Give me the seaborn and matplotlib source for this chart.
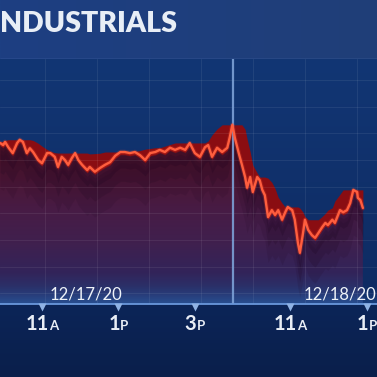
import numpy as np
import pandas as pd
import matplotlib
matplotlib.use("Agg")
import matplotlib.pyplot as plt
import matplotlib.transforms as mtrans
from matplotlib.colors import LinearSegmentedColormap, to_rgb
from matplotlib.path import Path
from matplotlib.ticker import MultipleLocator
import seaborn as sns

# ---------------- data ----------------
title = "NDUSTRIALS"
dates = ["12/17/20", "12/18/20"]

# minutes after the 9:30 open, session 1 (12/17/20)
day1_min = [24, 29, 32, 37, 44, 51, 55, 60, 66, 71, 76, 84, 90, 98, 103, 110,
            115, 121, 126, 131, 137, 142, 147, 153, 161, 165, 173, 181, 189,
            197, 205, 213, 220, 228, 236, 244, 252, 260, 268, 275, 283, 291,
            299, 307, 315, 322, 330, 338, 346, 351, 357, 365, 373, 381, 385, 389]
day1_val = [30282, 30278, 30284, 30274, 30263, 30282, 30288, 30284, 30263,
            30272, 30265, 30250, 30244, 30263, 30263, 30256, 30237, 30256,
            30250, 30241, 30254, 30263, 30250, 30241, 30231, 30237, 30228,
            30235, 30241, 30246, 30258, 30265, 30265, 30263, 30265, 30259,
            30250, 30263, 30265, 30269, 30265, 30273, 30269, 30273, 30269,
            30282, 30263, 30256, 30274, 30278, 30256, 30273, 30265, 30273,
            30293, 30316]

# minutes after the 9:30 open, session 2 (12/18/20)
day2_min = [3, 9, 14, 19, 22, 27, 31, 38, 42, 46, 50, 55, 61, 66, 71, 77, 82,
            86, 93, 97, 102, 105, 110, 113, 118, 124, 129, 134, 140, 145, 149,
            156, 160, 168, 173, 179, 184, 189, 195, 196, 200, 204]
day2_val = [30291, 30263, 30241, 30218, 30198, 30218, 30190, 30218, 30212,
            30194, 30184, 30143, 30156, 30147, 30156, 30138, 30152, 30162,
            30156, 30138, 30094, 30076, 30113, 30138, 30119, 30109, 30104,
            30113, 30124, 30132, 30128, 30138, 30132, 30156, 30152, 30156,
            30169, 30194, 30190, 30179, 30175, 30160]

tick_pos = [1.5, 3.5, 5.5, 8.0, 10.0]          # hours after first open
tick_num = ["11", "1", "3", "11", "1"]
tick_suf = ["A", "P", "P", "A", "P"]
session_hours = 6.5

# ---------------- layout constants ----------------
W = H = 377
top_px, base_px = 59, 304
px_per_hour = 38.2
val_per_px = 1.875
x_lo = session_hours + (0 - 233) / px_per_hour
x_hi = session_hours + (W - 233) / px_per_hour
y_lo = 30550 - val_per_px * base_px
y_hi = 30550 - val_per_px * top_px
grid_t = [session_hours + (p - 233) / px_per_hour for p in (45, 97, 149, 201, 253, 305, 357)]

t = np.concatenate([np.array(day1_min) / 60.0, session_hours + np.array(day2_min) / 60.0])
v = np.concatenate([np.array(day1_val, float), np.array(day2_val, float)])
df = pd.DataFrame({"t": t, "value": v})

sns.set_style("dark")
plt.rcParams["font.family"] = ["Lato", "DejaVu Sans"]

fig = plt.figure(figsize=(W / 100, H / 100), dpi=100)
fig.patch.set_facecolor("#0b2254")


def vgrad(colors, n=256):
    cm = LinearSegmentedColormap.from_list("g", colors)
    return cm(np.linspace(0, 1, n))[:, None, :]


# background axes (pixel space)
bg = fig.add_axes([0, 0, 1, 1])
bg.set_axis_off()
hdr = np.ones((60, 200, 3))
left = np.array(to_rgb("#1d3f82"))
right = np.array(to_rgb("#203e78"))
for i in range(200):
    hdr[:, i, :] = left + (right - left) * i / 199
bg.imshow(hdr, extent=[0, W, top_px, 0], aspect="auto", zorder=0)
bg.imshow(vgrad(["#0c2558", "#0a1f4b"]), extent=[0, W, H, base_px], aspect="auto", zorder=0)
bg.plot([0, W], [top_px, top_px], color="#4c70b0", lw=1.0, zorder=1)
bg.set_xlim(0, W)
bg.set_ylim(H, 0)

# chart axes
ax = fig.add_axes([0, (H - base_px) / H, 1, (base_px - top_px) / H])
ax.set_facecolor("#0f2c64")
ax.imshow(vgrad(["#0e2b62", "#123674"]), extent=[x_lo, x_hi, y_hi, y_lo],
          aspect="auto", zorder=0.5)

# gradient fill under the line, clipped to the area polygon
verts = np.vstack([np.column_stack([t, v]),
                   [[t[-1], y_lo], [t[0], y_lo], [t[0], v[0]]]])
area = Path(verts)
fill_cols = ["#22407c", "#32245a", "#40204e", "#471c46", "#4b1736", "#4e1329",
             "#560f21", "#5a0f1f", "#5a0f1f"]
im = ax.imshow(vgrad(fill_cols), extent=[x_lo, x_hi, y_lo, y_hi], origin="lower",
               aspect="auto", zorder=2)
im.set_clip_path(area, ax.transData)

# dark drip shadow under the line
for a, b, al in [(6, 30, 0.22), (12, 55, 0.18), (20, 85, 0.12)]:
    ax.fill_between(t, v - a, v - b, color="#1c0520", alpha=al, lw=0, zorder=2.1)

# red glow envelope above the line
env = pd.Series(v).rolling(9, center=True, min_periods=1).max()
env = env.rolling(3, center=True, min_periods=1).mean().values
env = np.maximum(env, v)
ax.fill_between(t, v - 5, env, color="#8a0d12", lw=0, zorder=2.3)

# bottom glow
glow = np.zeros((64, 1, 4))
glow[:, 0, :3] = to_rgb("#3f7fd8")
glow[:, 0, 3] = np.linspace(0.45, 0.0, 64) ** 1.8
ax.imshow(glow, extent=[x_lo, x_hi, y_lo, y_lo + 22 * val_per_px], origin="lower",
          aspect="auto", zorder=2.6)

# the line
sns.lineplot(data=df, x="t", y="value", ax=ax, color="#ff4a2a", lw=3.2, alpha=0.22,
             sort=False, zorder=3)
sns.lineplot(data=df, x="t", y="value", ax=ax, color="#ff5e3e", lw=1.7,
             sort=False, zorder=3.2)

ax.axvline(session_hours, color="#7ca0d6", lw=1.6, alpha=0.9, zorder=2.8)

ax.set_xlim(x_lo, x_hi)
ax.set_ylim(y_lo, y_hi)
ax.yaxis.set_major_locator(MultipleLocator(50))
ax.set_xticks(tick_pos)
ax.set_xticks(grid_t, minor=True)
ax.set_axisbelow(False)
ax.grid(axis="y", which="major", color="white", alpha=0.07, lw=0.8)
ax.grid(axis="x", which="minor", color="white", alpha=0.07, lw=0.8)
ax.grid(axis="x", which="major", visible=False)
ax.tick_params(which="both", left=False, bottom=False, labelleft=False, labelbottom=False)
ax.set_xlabel("")
ax.set_ylabel("")
for s in ["top", "left", "right"]:
    ax.spines[s].set_visible(False)
ax.spines["bottom"].set_color("#6a98dc")
ax.spines["bottom"].set_linewidth(1.3)
ax.spines["bottom"].set_zorder(4)

# tick triangles
blend = mtrans.blended_transform_factory(ax.transData, ax.transAxes)
ax.plot(tick_pos, [-0.014] * len(tick_pos), marker="v", ls="none", ms=5.5,
        color="#8fb2e4", mec="none", transform=blend, clip_on=False, zorder=5)

# tick labels: big digits + small letter, centred on the tick
fig.canvas.draw()
r = fig.canvas.get_renderer()
base_y = (base_px - 330) / (base_px - top_px)
for xp, n, s in zip(tick_pos, tick_num, tick_suf):
    t1 = ax.text(xp, base_y, n, transform=blend, ha="left", va="baseline",
                 fontsize=14.5, fontweight="bold", color="#e9eef6", clip_on=False)
    t2 = ax.text(xp, base_y, s, transform=blend, ha="left", va="baseline",
                 fontsize=9.5, fontweight="bold", color="#e9eef6", clip_on=False)
    w1 = t1.get_window_extent(r).width
    w2 = t2.get_window_extent(r).width
    start = -(w1 + w2) / 2
    t1.set_transform(mtrans.offset_copy(blend, fig=fig, x=start, y=0, units="dots"))
    t2.set_transform(mtrans.offset_copy(blend, fig=fig, x=start + w1, y=0, units="dots"))

# date labels
date_y = (base_px - 299) / (base_px - top_px)
ax.text(86 / W, date_y, dates[0], transform=ax.transAxes, ha="center", va="baseline",
        fontsize=12, fontweight="normal", color="#eef2f8", zorder=6)
ax.text(0.998, date_y, dates[1], transform=ax.transAxes, ha="right", va="baseline",
        fontsize=12, fontweight="normal", color="#eef2f8", zorder=6)

# title
fig.text(0.0, 1 - 32 / H, title, ha="left", va="baseline", fontsize=20.5,
         fontweight="heavy", color="#e8eef6")

fig.savefig("out.png", dpi=100, facecolor=fig.get_facecolor())
